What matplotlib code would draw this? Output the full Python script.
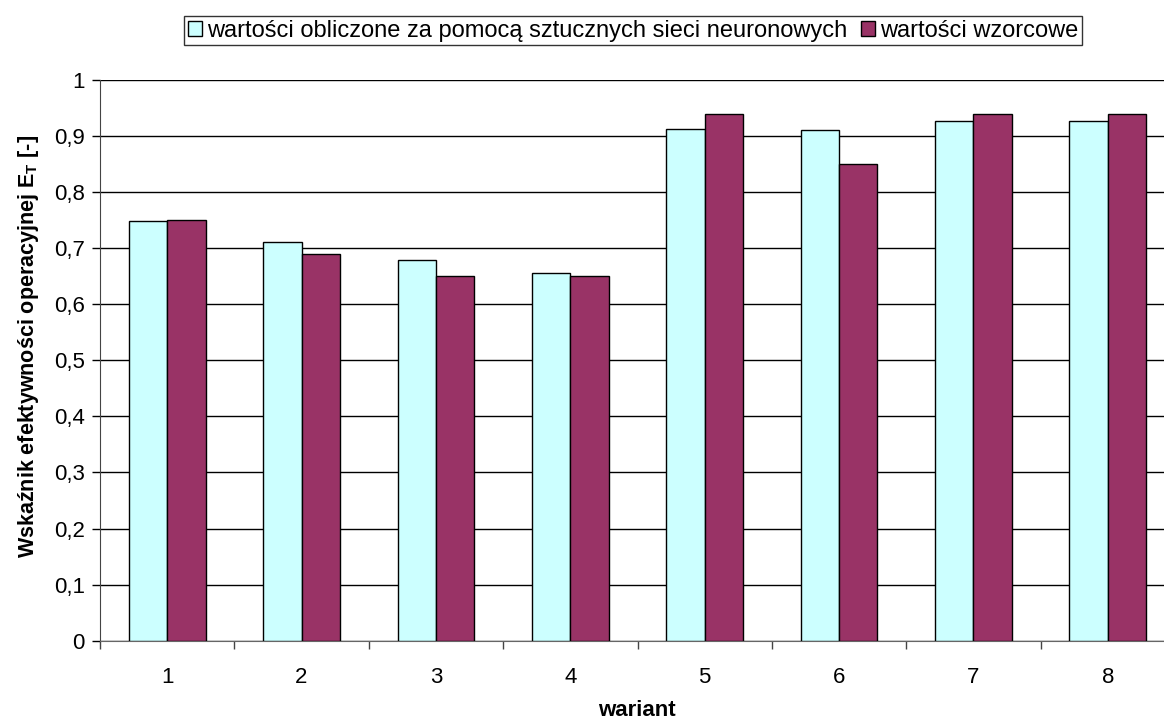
import matplotlib
matplotlib.use("Agg")
import matplotlib.pyplot as plt
import numpy as np
from matplotlib.ticker import FuncFormatter, MultipleLocator

plt.rcParams['font.family'] = ['Liberation Sans', 'DejaVu Sans']
plt.rcParams['mathtext.fontset'] = 'custom'
plt.rcParams['mathtext.rm'] = 'Liberation Sans'
plt.rcParams['mathtext.bf'] = 'Liberation Sans:bold'

categories = ['1', '2', '3', '4', '5', '6', '7', '8']
computed = [0.748, 0.711, 0.679, 0.655, 0.913, 0.910, 0.927, 0.926]
reference = [0.750, 0.690, 0.650, 0.650, 0.940, 0.850, 0.940, 0.940]
series_names = ['wartości obliczone za pomocą sztucznych sieci neuronowych', 'wartości wzorcowe']
colors = ['#CCFFFF', '#993366']

FS = 16

fig = plt.figure(figsize=(11.64, 7.24), dpi=100)
ax = fig.add_axes([100/1164, (724-640.7)/724, 1075/1164, (640.7-80)/724])

x = np.arange(len(categories))
w = 1/3.5
ax.bar(x - w/2, computed, w, color=colors[0], edgecolor='black', linewidth=1.0, label=series_names[0], zorder=3)
ax.bar(x + w/2, reference, w, color=colors[1], edgecolor='black', linewidth=1.0, label=series_names[1], zorder=3)

ax.set_xlim(-0.5, len(categories) - 0.5)
ax.set_ylim(0, 1)
ax.yaxis.set_major_locator(MultipleLocator(0.1))
ax.yaxis.set_major_formatter(FuncFormatter(lambda v, p: '0' if abs(v) < 1e-9 else ('1' if abs(v-1) < 1e-9 else f'{v:.1f}'.replace('.', ','))))
ax.grid(axis='y', color='black', linewidth=1.0, zorder=0)
ax.set_axisbelow(True)

ax.set_xticks(np.arange(-0.5, len(categories)))
ax.set_xticklabels([])
ax.set_xticks(x, minor=True)
ax.set_xticklabels(categories, minor=True)
ax.tick_params(axis='x', which='major', direction='out', length=6, width=1, color='#444444')
ax.tick_params(axis='x', which='minor', length=0, pad=19, labelsize=FS)
ax.tick_params(axis='y', direction='out', length=6, width=1, labelsize=FS, pad=5)

for s in ['top', 'right']:
    ax.spines[s].set_visible(False)
ax.spines['left'].set_color('#444444')
ax.spines['bottom'].set_color('#666666')

fig.text(637/1164, 1 - 711/724, 'wariant', fontsize=FS, fontweight='bold', ha='center', va='center')
fig.text(29/1164, 1 - 346/724, r'Wskaźnik efektywności operacyjnej E$_\mathbf{T}$ [-]',
         fontsize=15.5, fontweight='bold', rotation=90, ha='center', va='center')

leg = fig.legend(loc='upper center', bbox_to_anchor=(633/1164, 1 - 16/724), ncol=2, fontsize=17,
                 frameon=True, fancybox=False, edgecolor='black', handlelength=0.6, handleheight=0.6,
                 handletextpad=0.2, columnspacing=0.6, borderpad=0.15, borderaxespad=0)
leg.get_frame().set_linewidth(1.0)

fig.savefig('out.png', dpi=100)
